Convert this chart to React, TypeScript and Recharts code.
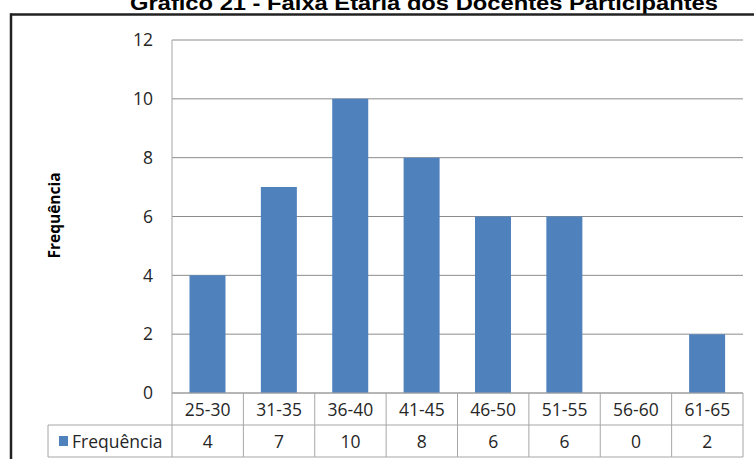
import React from "react";
import {
  BarChart,
  Bar,
  XAxis,
  YAxis,
  CartesianGrid,
  Customized,
} from "recharts";

// Age ranges and how many teachers fall in each
const categories = ["25-30", "31-35", "36-40", "41-45", "46-50", "51-55", "56-60", "61-65"];
const frequencies = [4, 7, 10, 8, 6, 6, 0, 2];
const yTicks = [0, 2, 4, 6, 8, 10, 12];
const seriesName = "Frequência";
const titleText = "Gráfico 21 - Faixa Etária dos Docentes Participantes";

const data = categories.map((faixa, i) => ({ faixa, freq: frequencies[i] }));

const W = 754;
const H = 459;
const X_AXIS_H = 66;
const Y_AXIS_W = 172;
// the axis sizes are added on top of these margins
const MARGIN = { top: 40, right: 11, bottom: 0, left: 0 };
const PLOT_LEFT = MARGIN.left + Y_AXIS_W;
const PLOT_RIGHT = W - MARGIN.right;
const CELL_W = (PLOT_RIGHT - PLOT_LEFT) / categories.length;
const ROW_H = 32;
const LEGEND_LEFT = 48;

const BAR_COLOR = "#4F81BD";
const GRID = "#8c8c8c";
const TABLE_LINE = "#a6a6a6";
const FONT = "'Open Sans', 'Noto Sans', sans-serif";
const TEXT = "#262626";

// Data table under the plot: category row, value row and the legend key cell
const TableTick = (props: any) => {
  const { x, y, payload } = props;
  const idx = payload.index;
  const left = x - CELL_W / 2;
  const right = x + CELL_W / 2;
  const r1 = y + ROW_H;
  const r2 = y + ROW_H * 2;
  return (
    <g>
      <line x1={right} x2={right} y1={y} y2={r2} stroke={TABLE_LINE} />
      <line x1={left} x2={right} y1={r1} y2={r1} stroke={TABLE_LINE} />
      <line x1={left} x2={right} y1={r2} y2={r2} stroke={TABLE_LINE} />
      <text x={x} y={y + 22.5} textAnchor="middle" fontFamily={FONT} fontSize={17.5} fill={TEXT}>
        {payload.value}
      </text>
      <text x={x} y={r1 + 22.5} textAnchor="middle" fontFamily={FONT} fontSize={17.5} fill={TEXT}>
        {frequencies[idx]}
      </text>
      {idx === 0 && (
        <g>
          <line x1={left} x2={left} y1={y} y2={r2} stroke={TABLE_LINE} />
          <line x1={LEGEND_LEFT} x2={left} y1={r1} y2={r1} stroke={TABLE_LINE} />
          <line x1={LEGEND_LEFT} x2={left} y1={r2} y2={r2} stroke={TABLE_LINE} />
          <line x1={LEGEND_LEFT} x2={LEGEND_LEFT} y1={r1} y2={r2} stroke={TABLE_LINE} />
          <rect x={59} y={r1 + 11} width={9} height={10} fill={BAR_COLOR} />
          <text x={72} y={r1 + 22.5} fontFamily={FONT} fontSize={17.5} fill={TEXT}>
            {seriesName}
          </text>
        </g>
      )}
    </g>
  );
};

// Title, outer frame and the vertical axis caption
const Decorations = () => (
  <g>
    <text
      x={424}
      y={10}
      textAnchor="middle"
      fontFamily="'Liberation Sans', Arial, sans-serif"
      fontWeight="bold"
      fontSize={21}
      textLength={588}
      lengthAdjust="spacingAndGlyphs"
      fill="#000"
    >
      {titleText}
    </text>
    <line x1={10} x2={W} y1={14.5} y2={14.5} stroke="#222" strokeWidth={2.5} />
    <line x1={11} x2={11} y1={13.5} y2={H} stroke="#222" strokeWidth={2.5} />
    <text
      x={0}
      y={0}
      transform={`translate(60, 215.5) rotate(-90)`}
      textAnchor="middle"
      fontFamily={FONT}
      fontWeight="bold"
      fontSize={15.5}
      fill="#000"
    >
      {seriesName}
    </text>
  </g>
);

export default function App() {
  return (
    <div style={{ position: "absolute", left: 0, top: 0, width: W, height: H, background: "#fff" }}>
      <BarChart width={W} height={H} data={data} margin={MARGIN} barCategoryGap="24.5%">
        <CartesianGrid horizontal vertical={false} stroke={GRID} />
        <XAxis
          dataKey="faixa"
          interval={0}
          height={X_AXIS_H}
          axisLine={{ stroke: TABLE_LINE }}
          tickLine={false}
          tickSize={0}
          tickMargin={0}
          tick={<TableTick />}
        />
        <YAxis
          width={Y_AXIS_W}
          domain={[0, 12]}
          ticks={yTicks}
          interval={0}
          axisLine={{ stroke: TABLE_LINE }}
          tickLine={false}
          tickSize={0}
          tickMargin={19}
          tick={{ fontFamily: FONT, fontSize: 17.5, fill: TEXT }}
        />
        <Bar dataKey="freq" name={seriesName} fill={BAR_COLOR} isAnimationActive={false} />
        <Customized component={Decorations} />
      </BarChart>
    </div>
  );
}
